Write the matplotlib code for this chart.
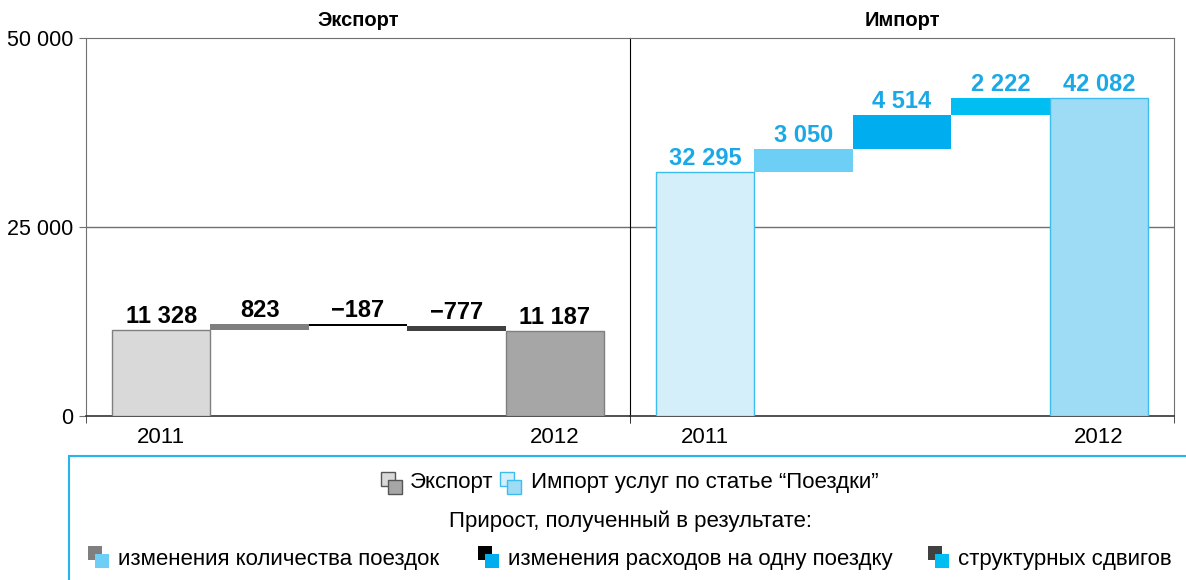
import matplotlib.pyplot as plt
from matplotlib.patches import Rectangle

plt.rcParams['font.family'] = ['Liberation Sans', 'DejaVu Sans']

# waterfall data: start level, three increments, end level
export_start = 11328
export_deltas = [823, -187, -777]
export_end = 11187

import_start = 32295
import_deltas = [3050, 4514, 2222]
import_end = 42082

years = ['2011', '2012']
yticks = [0, 25000, 50000]
ytick_labels = ['0', '25 000', '50 000']

export_colors = ['#D9D9D9', '#7F7F7F', '#000000', '#404040', '#A6A6A6']
import_colors = ['#D4EEFA', '#6DCFF6', '#00AEEF', '#00BDF2', '#9EDCF6']

W, H = 1186, 580


def fmt(v):
    s = f'{abs(v):,}'.replace(',', ' ')
    return ('\u2212' + s) if v < 0 else s


def waterfall(ax, start, deltas, end, colors, edge, label_color, title):
    xs = list(range(len(deltas) + 2))
    lab = dict(xytext=(0, 5), textcoords='offset points', ha='center', va='baseline',
               fontsize=17, fontweight='bold', color=label_color)
    ax.bar(0, start, width=1.0, color=colors[0], edgecolor=edge, linewidth=1, zorder=3)
    ax.annotate(fmt(start), (0, start), **lab)
    level = start
    for i, d in enumerate(deltas):
        ax.bar(i + 1, d, bottom=level, width=1.0, color=colors[i + 1], linewidth=0, zorder=3)
        ax.annotate(fmt(d), (i + 1, max(level, level + d)), **lab)
        level += d
    ax.bar(xs[-1], end, width=1.0, color=colors[-1], edgecolor=edge, linewidth=1, zorder=3)
    ax.annotate(fmt(end), (xs[-1], end), **lab)

    lo, hi = -0.764, xs[-1] + 0.764
    ax.set_xlim(lo, hi)
    ax.set_ylim(0, 50000)
    ax.set_xticks([0, xs[-1]], years)
    ax.set_xticks([lo, hi], minor=True)
    ax.tick_params(axis='x', which='major', length=0, pad=8, labelsize=16)
    ax.tick_params(axis='x', which='minor', length=5, direction='out', color='#333333')
    ax.axhline(25000, color='#707070', linewidth=1, zorder=1)
    ax.set_title(title, fontsize=14.5, fontweight='bold', pad=9)
    for side in ['top', 'right', 'left']:
        ax.spines[side].set_color('#707070')
    ax.spines['bottom'].set_color('#333333')
    ax.spines['bottom'].set_linewidth(1.2)


fig = plt.figure(figsize=(W / 100, H / 100), dpi=100)
ax1 = fig.add_axes([86 / W, 164 / H, 544 / W, 378 / H])
ax2 = fig.add_axes([630 / W, 164 / H, 544 / W, 378 / H])

waterfall(ax1, export_start, export_deltas, export_end, export_colors,
          '#7F7F7F', 'black', 'Экспорт')
waterfall(ax2, import_start, import_deltas, import_end, import_colors,
          '#3DBDEE', '#1AA9E6', 'Импорт')

ax1.set_yticks(yticks, ytick_labels)
ax1.tick_params(axis='y', length=5, color='#707070', labelsize=15.5, pad=4)
ax1.spines['right'].set_visible(False)
ax2.set_yticks([])
ax2.spines['left'].set_color('black')


def fx(px):
    return px / W


def fy(py):
    return 1 - py / H


def square(x, y, size, face, edge=None):
    fig.patches.append(Rectangle((fx(x), fy(y + size)), size / W, size / H,
                                 transform=fig.transFigure, facecolor=face,
                                 edgecolor=edge if edge else face,
                                 linewidth=1 if edge else 0))


def icon(x, y, back, front, edge=None):
    square(x, y, 14, back, edge)
    square(x + 7, y + 8, 14, front, edge)


# legend frame, open to the right and below
fig.patches.append(Rectangle((fx(69), fy(620)), 1.2, 164 / H, transform=fig.transFigure,
                             facecolor='none', edgecolor='#27B4E8', linewidth=1.5))

icon(381, 472, export_colors[0], export_colors[-1], edge='#555555')
fig.text(fx(410), fy(488), 'Экспорт', fontsize=16, va='baseline')
icon(500, 472, import_colors[0], import_colors[-1], edge='#3DBDEE')
fig.text(fx(531), fy(488), 'Импорт услуг по статье “Поездки”', fontsize=16, va='baseline')

fig.text(fx(449), fy(527), 'Прирост, полученный в результате:', fontsize=16, va='baseline')

factor_labels = ['изменения количества поездок', 'изменения расходов на одну поездку',
                 'структурных сдвигов']
icon_x = [88, 478, 928]
for i, lab in enumerate(factor_labels):
    icon(icon_x[i], 546, export_colors[i + 1], import_colors[i + 1])
    fig.text(fx(icon_x[i] + 30), fy(565), lab, fontsize=16, va='baseline')

fig.savefig('out.png', dpi=100)
